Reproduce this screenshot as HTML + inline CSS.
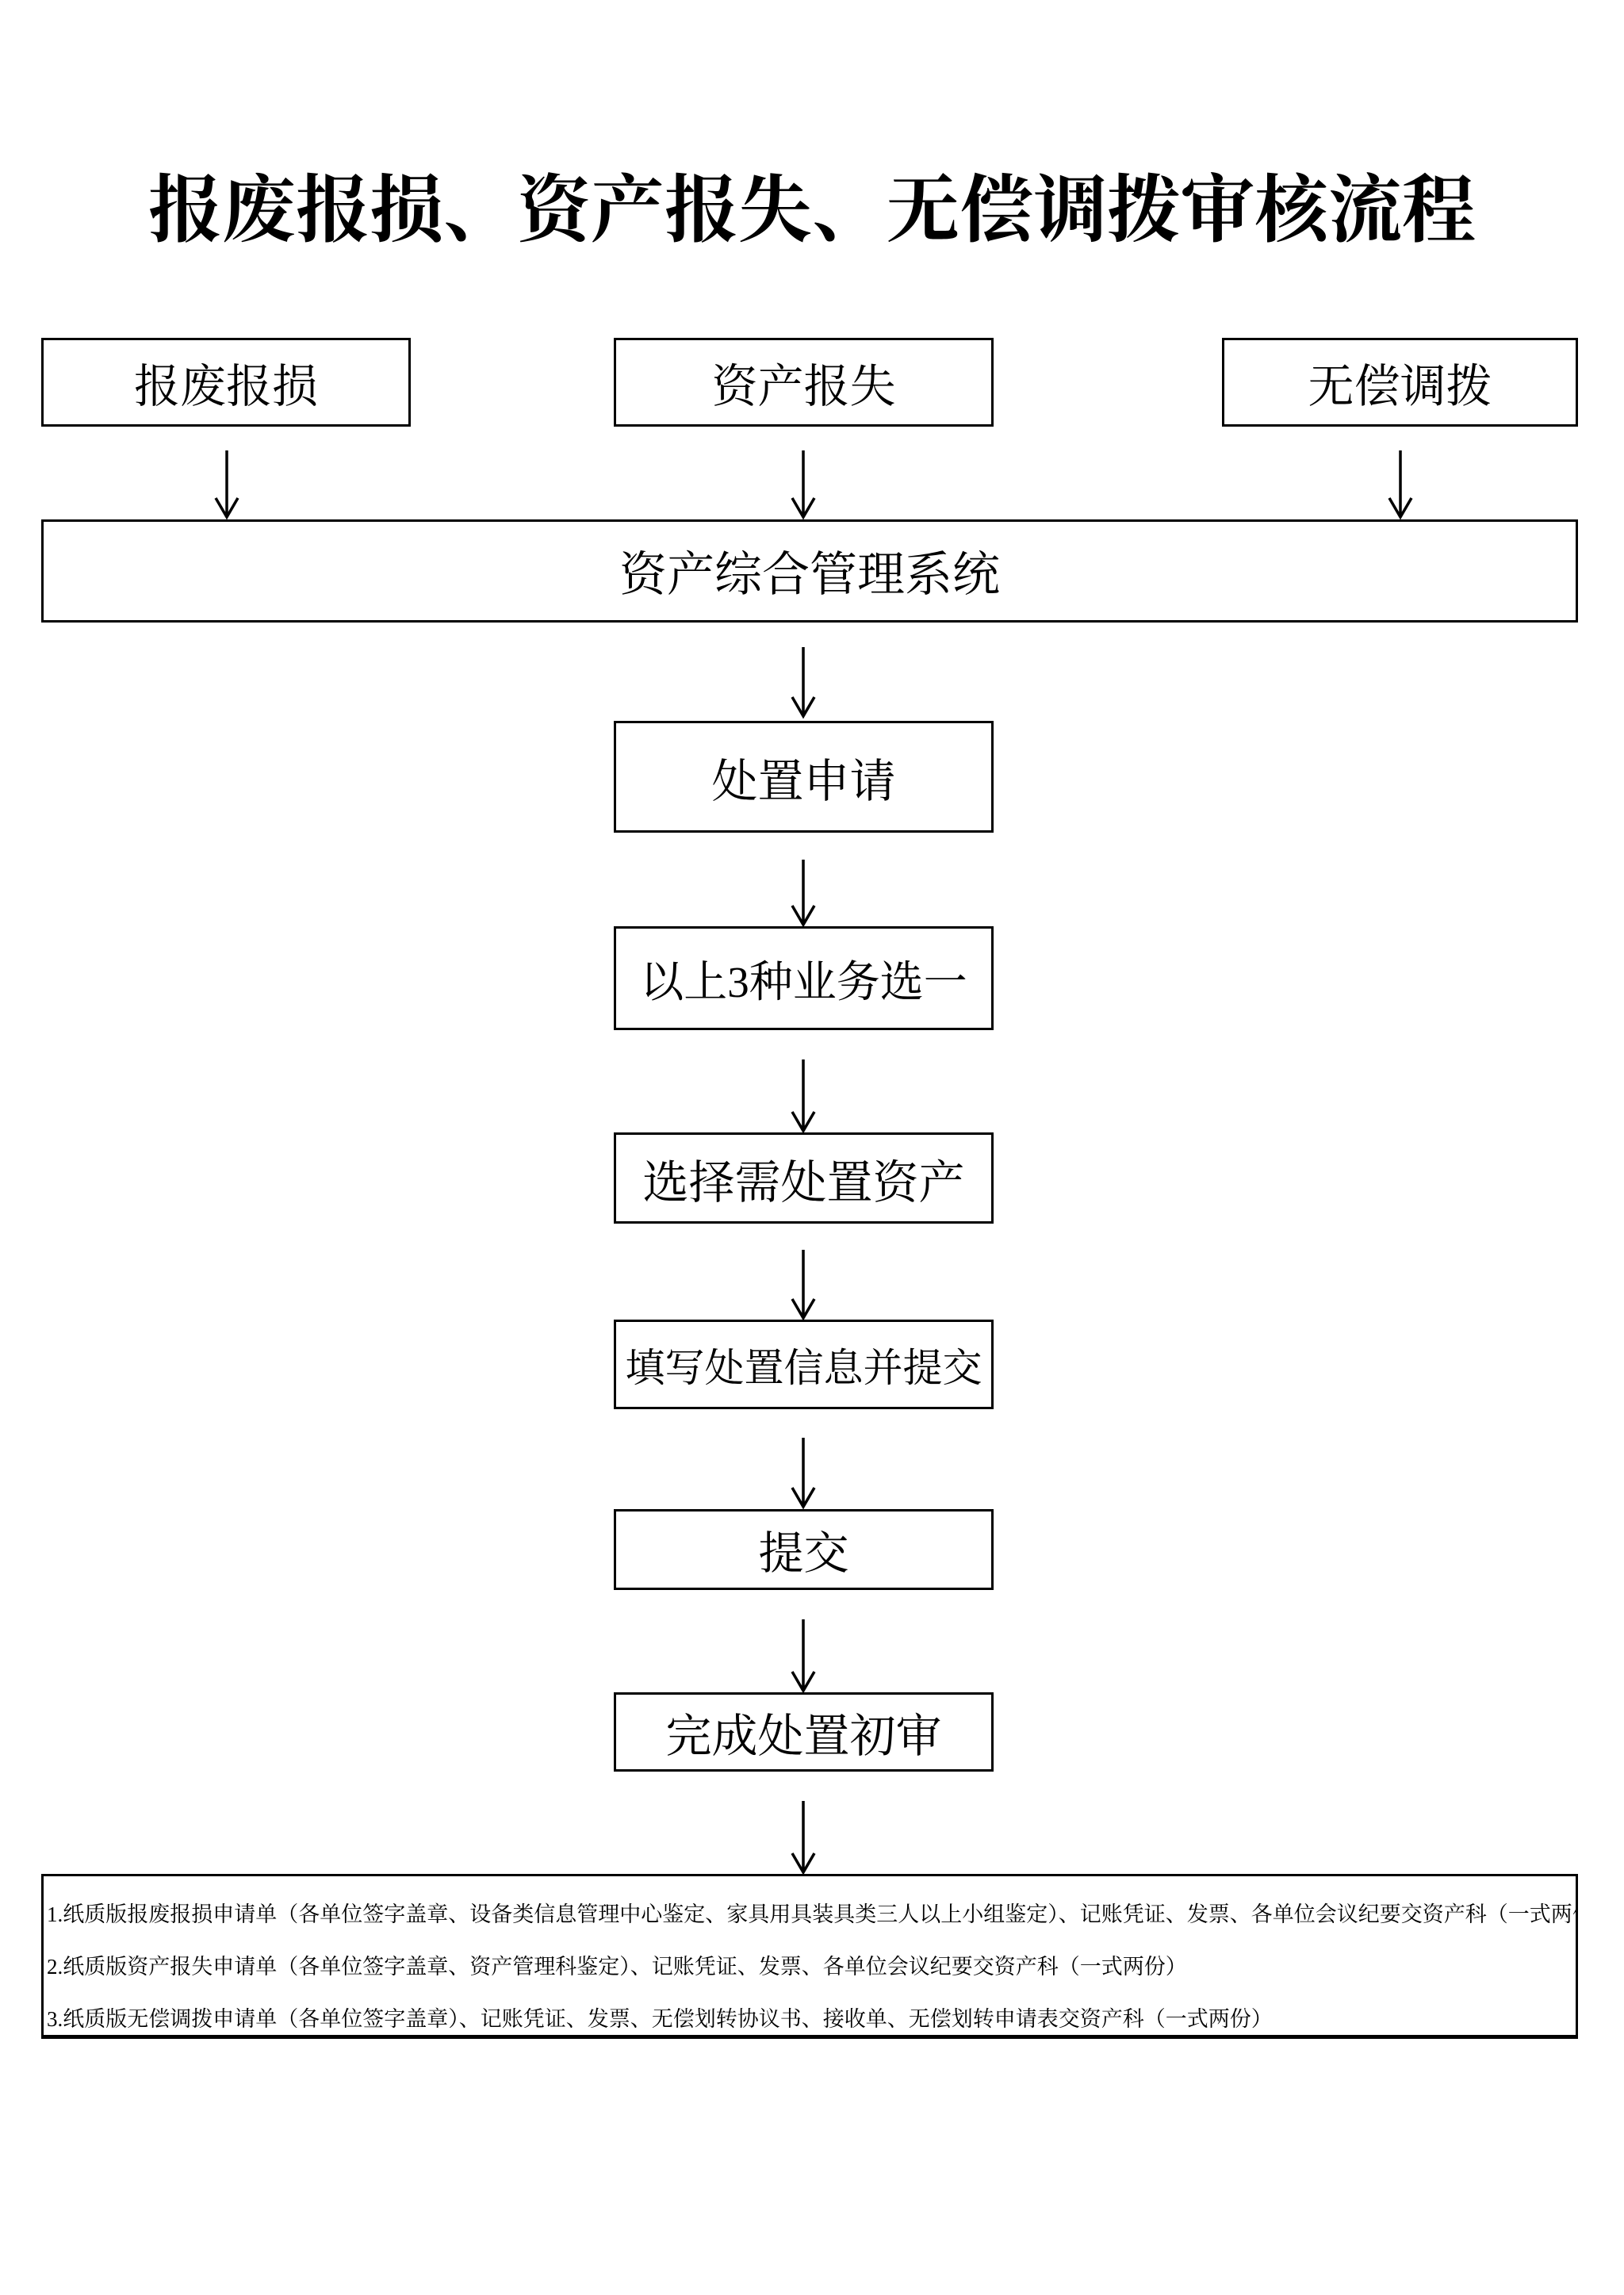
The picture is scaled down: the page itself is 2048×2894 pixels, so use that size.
<!DOCTYPE html>
<html><head><meta charset="utf-8"><style>
html,body{margin:0;padding:0;background:#fff}
body{width:2048px;height:2894px;position:relative;overflow:hidden;font-family:"Liberation Serif","Noto Serif CJK SC",serif;color:#000}
.t{position:absolute;left:0;width:2048px;top:212px;text-align:center;font-size:93px;font-weight:bold;line-height:110px;white-space:nowrap}
.b{position:absolute;box-sizing:border-box;border:3px solid #000;display:flex;align-items:center;justify-content:center;white-space:nowrap;font-size:57px}
.n{position:absolute;left:52px;width:1938px;top:2363px;height:208px;box-sizing:border-box;border:3px solid #000;border-bottom-width:5px;overflow:hidden}
.n div{position:absolute;left:4px;font-size:27px;line-height:30px;white-space:nowrap}
svg{position:absolute;left:0;top:0}
</style></head><body>
<div class="t">报废报损、资产报失、无偿调拨审核流程</div>
<div class="b" style="left:52px;top:426px;width:466px;height:112px;font-size:58px">报废报损</div>
<div class="b" style="left:774px;top:426px;width:479px;height:112px;font-size:58px">资产报失</div>
<div class="b" style="left:1541px;top:426px;width:449px;height:112px;font-size:58px">无偿调拨</div>
<div class="b" style="left:52px;top:655px;width:1938px;height:130px;font-size:60px">资产综合管理系统</div>
<div class="b" style="left:774px;top:909px;width:479px;height:141px;font-size:58px">处置申请</div>
<div class="b" style="left:774px;top:1168px;width:479px;height:131px;font-size:55px">以上3种业务选一</div>
<div class="b" style="left:774px;top:1428px;width:479px;height:115px;font-size:58px">选择需处置资产</div>
<div class="b" style="left:774px;top:1664px;width:479px;height:113px;font-size:50px">填写处置信息并提交</div>
<div class="b" style="left:774px;top:1903px;width:479px;height:102px;font-size:57px">提交</div>
<div class="b" style="left:774px;top:2134px;width:479px;height:100px;font-size:58px">完成处置初审</div>
<div class="n">
<div style="top:33px">1.纸质版报废报损申请单（各单位签字盖章、设备类信息管理中心鉴定、家具用具装具类三人以上小组鉴定）、记账凭证、发票、各单位会议纪要交资产科（一式两份）</div>
<div style="top:99px">2.纸质版资产报失申请单（各单位签字盖章、资产管理科鉴定）、记账凭证、发票、各单位会议纪要交资产科（一式两份）</div>
<div style="top:165px">3.纸质版无偿调拨申请单（各单位签字盖章）、记账凭证、发票、无偿划转协议书、接收单、无偿划转申请表交资产科（一式两份）</div>
</div>
<svg width="2048" height="2894" fill="none" stroke="#000" stroke-width="3.5">
<path d="M286 568V652M272 628L286 652L300 628"/>
<path d="M1013 568V652M999 628L1013 652L1027 628"/>
<path d="M1766 568V652M1752 628L1766 652L1780 628"/>
<path d="M1013 816V903M999 879L1013 903L1027 879"/>
<path d="M1013 1084V1166M999 1142L1013 1166L1027 1142"/>
<path d="M1013 1336V1426M999 1402L1013 1426L1027 1402"/>
<path d="M1013 1576V1662M999 1638L1013 1662L1027 1638"/>
<path d="M1013 1813V1900M999 1876L1013 1900L1027 1876"/>
<path d="M1013 2042V2132M999 2108L1013 2132L1027 2108"/>
<path d="M1013 2271V2361M999 2337L1013 2361L1027 2337"/>
</svg>
</body></html>
